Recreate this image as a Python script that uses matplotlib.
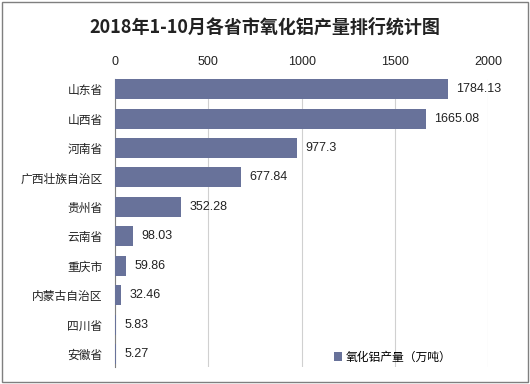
import matplotlib.pyplot as plt

plt.rcParams['font.family'] = ['Noto Sans CJK SC', 'DejaVu Sans']

# data
provinces = ['山东省', '山西省', '河南省', '广西壮族自治区', '贵州省',
             '云南省', '重庆市', '内蒙古自治区', '四川省', '安徽省']
output = [1784.13, 1665.08, 977.3, 677.84, 352.28, 98.03, 59.86, 32.46, 5.83, 5.27]
value_labels = ['1784.13', '1665.08', '977.3', '677.84', '352.28',
                '98.03', '59.86', '32.46', '5.83', '5.27']
x_ticks = [0, 500, 1000, 1500, 2000]

bar_color = '#68729a'
num_font = ['Liberation Sans', 'DejaVu Sans']

fig = plt.figure(figsize=(5.3, 3.84), dpi=100)
ax = fig.add_axes([0.217, 0.044, 0.704, 0.750])

y = list(range(len(provinces)))
ax.barh(y, output, height=0.68, color=bar_color, label='氧化铝产量（万吨）', zorder=3)
for yi, v, lab in zip(y, output, value_labels):
    ax.text(v + 45, yi, lab, va='center', ha='left', fontsize=9,
            family=num_font, color='#222222')

ax.set_ylim(9.44, -0.34)
ax.set_yticks(y)
ax.set_yticklabels(provinces, fontsize=8.5, color='#222222')
ax.set_xlim(0, 2000)
ax.set_xticks(x_ticks)
ax.set_xticklabels([str(t) for t in x_ticks], fontsize=9, family=num_font, color='#222222')
ax.xaxis.tick_top()
ax.tick_params(axis='x', length=0, pad=8)
ax.tick_params(axis='y', length=0, pad=9)
ax.grid(axis='x', color='#d0d0d0', linewidth=0.8, zorder=0)

for s in ['right', 'bottom', 'top']:
    ax.spines[s].set_visible(False)
ax.spines['left'].set_color('#7f7f7f')

leg = ax.legend(loc='lower right', bbox_to_anchor=(0.93, -0.025), frameon=False,
                fontsize=8.5, handlelength=0.7, handleheight=0.7, handletextpad=0.3)

fig.text(0.5, 0.93, '2018年1-10月各省市氧化铝产量排行统计图', ha='center', va='center',
         fontsize=13, fontweight='bold', color='#222222')

# outer frame
fig.patches.append(plt.Rectangle((0.004, 0.004), 0.992, 0.992, transform=fig.transFigure,
                                 fill=False, edgecolor='#7f7f7f', linewidth=1))

fig.savefig('out.png', dpi=100)
